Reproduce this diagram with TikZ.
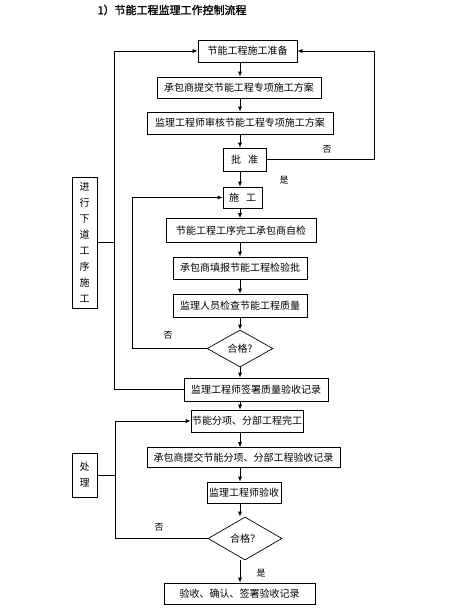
\documentclass[tikz,border=0pt]{standalone}
\usepackage{fontspec}
\usepackage{tikz}
\usetikzlibrary{positioning,arrows.meta,shapes.geometric}
\setmainfont{Noto Sans CJK SC}
\newfontfamily\titlefont[FakeBold=1.5]{Noto Sans CJK SC}

\begin{document}
\begin{tikzpicture}[
    x=1pt, y=-1pt,
    font=\fontsize{10}{11}\selectfont,
    process/.style={
        draw,
        line width=0.7pt,
        inner sep=0pt,
        minimum height=22pt,
        align=center
    },
    decision/.style={
        draw,
        diamond,
        line width=0.7pt,
        inner sep=0pt,
        aspect=1.8
    },
    sidebox/.style={
        draw,
        line width=0.7pt,
        inner sep=0pt,
        minimum width=25pt,
        align=center,
        font=\fontsize{10}{16}\selectfont
    },
    arrow/.style={
        -{Latex[length=5pt,width=4pt]},
        line width=0.7pt
    },
    link/.style={line width=0.7pt},
    tag/.style={inner sep=1pt, font=\fontsize{9}{10}\selectfont}
]
\useasboundingbox (0,0) rectangle (471,614);
\node[anchor=west, font=\fontsize{11}{12}\titlefont] (title) at (94,10) {1）节能工程监理工作控制流程};

% main column
\node[process, minimum width=99pt] (prep) at (247.5,51) {节能工程施工准备};
\node[process, minimum width=164pt, minimum height=21pt] (submit) at (239,87.5) {承包商提交节能工程专项施工方案};
\node[process, minimum width=186pt] (review) at (240,123) {监理工程师审核节能工程专项施工方案};
\node[process, minimum width=43pt, minimum height=23pt] (approve) at (244.5,159.5) {批\hspace{7pt}准};
\node[process, minimum width=39pt, minimum height=21pt] (build) at (242.5,197.5) {施\hspace{7pt}工};
\node[process, minimum width=150pt, minimum height=24pt] (selfchk) at (241,230.5) {节能工程工序完工承包商自检};
\node[process, minimum width=134pt] (report) at (240,268) {承包商填报节能工程检验批};
\node[process, minimum width=134pt, minimum height=23pt] (inspect) at (240,305.5) {监理人员检查节能工程质量};
\node[decision, minimum width=66pt, minimum height=37pt] (chkA) at (240,348.5) {合格?};
\node[process, minimum width=144pt, minimum height=23pt] (sign) at (256,389.5) {监理工程师签署质量验收记录};
\node[process, minimum width=112pt] (subdone) at (247,421) {节能分项、分部工程完工};
\node[process, minimum width=193pt, minimum height=20pt] (subrec) at (243.5,457.5) {承包商提交节能分项、分部工程验收记录};
\node[process, minimum width=74pt, minimum height=21pt] (accept) at (244,492.5) {监理工程师验收};
\node[decision, minimum width=74pt, minimum height=43pt] (chkB) at (245,538.5) {合格？};
\node[process, minimum width=151pt, minimum height=21pt] (final) at (239.5,593.5) {验收、确认、签署验收记录};

% side boxes
\node[sidebox, minimum height=131pt] (nextstep) at (84.5,242.5) {进\\行\\下\\道\\工\\序\\施\\工};
\node[sidebox, minimum height=44pt] (handle) at (84.5,475) {处\\理};

% bus lines
\coordinate (axis) at (240,0);
\coordinate (leftbus) at (114,0);
\coordinate (midbus) at (132,0);
\coordinate (lowbus) at (115,0);
\coordinate (rightbus) at (374,0);

\foreach \a/\b in {prep/submit, submit/review, review/approve, approve/build,
    build/selfchk, selfchk/report, report/inspect, inspect/chkA, chkA/sign,
    sign/subdone, subdone/subrec, subrec/accept, accept/chkB, chkB/final}
    \draw[arrow] (\a.south -| axis) -- (\b.north -| axis);

\draw[arrow] (approve.east) -- (approve.east -| rightbus) |- (prep.east);
\draw[arrow] (sign.west) -- (sign.west -| leftbus) |- (prep.west);
\draw[link] (nextstep.east) -- (nextstep.east -| leftbus);
\draw[arrow] (chkA.west) -- (chkA.west -| midbus) |- (build.west);
\draw[arrow] (chkB.west) -- (chkB.west -| lowbus) |- (subdone.west);
\draw[link] (handle.east) -- (handle.east -| lowbus);

% labels
\node[tag] (noA) at (327,149) {否};
\node[tag] (yesA) at (284,180) {是};
\node[tag] (noB) at (168,335) {否};
\node[tag] (noC) at (159,527) {否};
\node[tag] (yesC) at (261,573) {是};
\end{tikzpicture}
\end{document}
